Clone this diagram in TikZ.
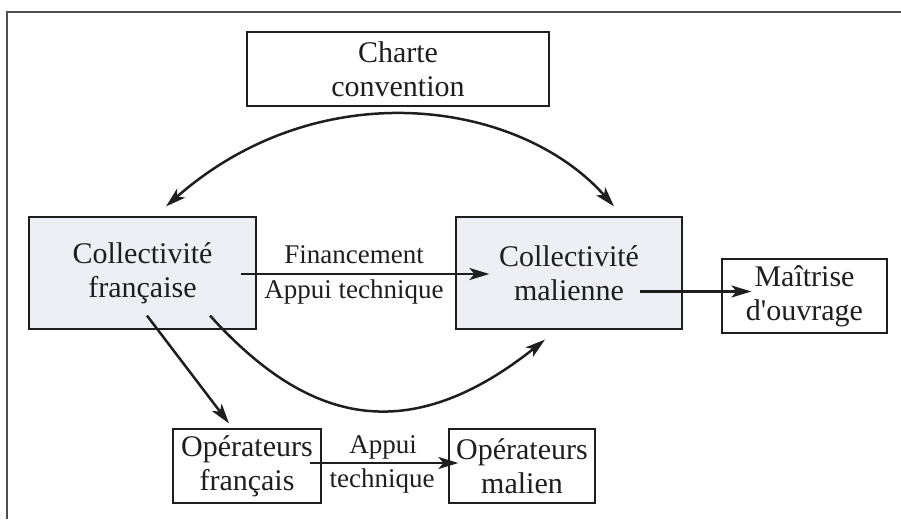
\documentclass[tikz,border=0pt]{standalone}
\usepackage{fontspec}
\setmainfont{Liberation Serif}
\usetikzlibrary{arrows.meta}
\definecolor{boxfill}{RGB}{238,239,244}
\definecolor{ink}{RGB}{30,30,30}
\definecolor{framegray}{RGB}{80,80,80}
\tikzset{
  box/.style={draw=ink, line width=1.2pt, inner sep=0pt, align=center, text=ink,
    font=\fontsize{30}{34}\selectfont},
  bigbox/.style={box, fill=boxfill},
  lbl/.style={inner sep=0pt, anchor=base, text=ink, font=\fontsize{27}{34}\selectfont},
  conn/.style={draw=ink, line width=2.5pt, -{Stealth[length=20pt,width=12pt,inset=5pt]}},
  dconn/.style={draw=ink, line width=2.5pt, {Stealth[length=20pt,width=12pt,inset=5pt]}-{Stealth[length=20pt,width=12pt,inset=5pt]}}
}
\begin{document}
\begin{tikzpicture}[x=1pt,y=-1pt]
\useasboundingbox (0,0) rectangle (901,519);
\draw[framegray, line width=1.3pt] (7,519) -- (7,12) -- (901,12);

\node[box, minimum width=302pt, minimum height=74pt] (charte) at (398,69) {Charte\\convention};
\node[bigbox, minimum width=227pt, minimum height=112pt] (cf) at (142.5,273) {Collectivité\\française};
\node[bigbox, minimum width=226pt, minimum height=112pt] (cm) at (569,273) {Collectivité\\malienne};
\node[box, minimum width=165pt, minimum height=74pt] (mo) at (804.5,296) {Maîtrise\\d\textquotesingle ouvrage};
\node[box, minimum width=148pt, minimum height=74pt] (of) at (247,466) {Opérateurs\\français};
\node[box, minimum width=146pt, minimum height=74pt] (om) at (522,466) {Opérateurs\\malien};

\node[lbl] (lfin) at (354,263) {Financement};
\node[lbl] (lapp) at (354,298) {Appui technique};
\node[lbl] (lapp2) at (383,453) {Appui};
\node[lbl] (ltech) at (382,487) {technique};

\draw[dconn] ([xshift=23.5pt,yshift=10pt]cf.north) .. controls (320,71) and (520,100) .. ([xshift=45pt,yshift=10pt]cm.north);
\draw[conn] ([xshift=-16pt,yshift=-1pt]cf.east) -- ([xshift=34pt,yshift=-1pt]cm.west);
\draw[conn] ([xshift=-43pt,yshift=-18.5pt]cm.east) -- ([xshift=30pt,yshift=4.5pt]mo.west);
\draw[conn] ([xshift=4.5pt,yshift=14pt]cf.south) -- ([xshift=-18pt,yshift=5pt]of.north);
\draw[conn] ([xshift=67.5pt,yshift=14pt]cf.south) .. controls (300,415) and (400,455) .. ([xshift=-24pt,yshift=-10pt]cm.south);
\draw[conn] ([xshift=-12pt,yshift=3pt]of.east) -- ([xshift=10pt,yshift=3pt]om.west);
\end{tikzpicture}
\end{document}
